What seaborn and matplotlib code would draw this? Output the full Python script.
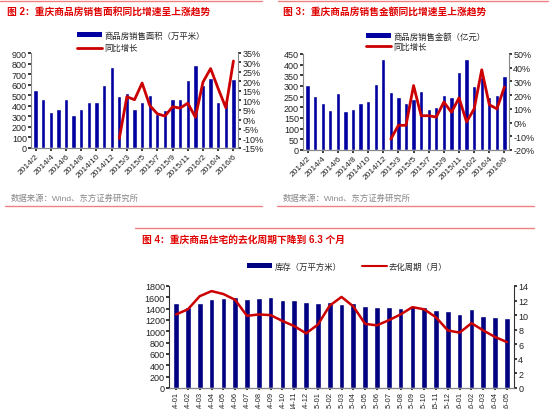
import numpy as np
import pandas as pd
import matplotlib
matplotlib.use("Agg")
import matplotlib.pyplot as plt
import seaborn as sns
from matplotlib.patches import Patch
from matplotlib.lines import Line2D
from matplotlib.ticker import FuncFormatter

sns.set_theme(style="white")
plt.rcParams['font.family'] = ['Liberation Sans', 'Noto Sans CJK SC', 'DejaVu Sans']
plt.rcParams['axes.unicode_minus'] = False

# ---------------- data ----------------
months_top = ["2014/2", "2014/3", "2014/4", "2014/5", "2014/6", "2014/7", "2014/8", "2014/9",
              "2014/10", "2014/11", "2014/12", "2015/2", "2015/3", "2015/4", "2015/5", "2015/6",
              "2015/7", "2015/8", "2015/9", "2015/10", "2015/11", "2015/12", "2016/2", "2016/3",
              "2016/4", "2016/5", "2016/6"]
sales_area = [547, 468, 340, 365, 468, 317, 365, 437, 437, 595, 772, 497, 522, 371, 432, 498,
              320, 364, 465, 465, 646, 782, 593, 662, 434, 450, 652]
area_yoy = [-10, 12, 10.4, 19.2, 7.4, 3, 1.8, 6.7, 6, 8.6, 1.2, 19.7, 26.8, 16.2, 6.2, 30.8]
sales_amount = [305, 255, 222, 188, 265, 182, 192, 222, 232, 310, 425, 270, 250, 218, 238, 278,
                190, 200, 257, 250, 367, 425, 298, 340, 247, 260, 349]
amount_yoy = [-12, -2, -2, 27, 5, 5, 4, 15, 7.5, 18, 0.5, 10, 38.5, 13, 10, 26]
yoy_start = 11  # series starts at 2015/2

months_bot = ["14-01", "14-02", "14-03", "14-04", "14-05", "14-06", "14-07", "14-08", "14-09",
              "14-10", "14-11", "14-12", "15-01", "15-02", "15-03", "15-04", "15-05", "15-06",
              "15-07", "15-08", "15-09", "15-10", "15-11", "15-12", "16-01", "16-02", "16-03",
              "16-04", "16-05"]
inventory = [1506, 1435, 1494, 1570, 1594, 1612, 1565, 1588, 1606, 1559, 1553, 1518, 1494, 1524,
             1476, 1503, 1453, 1429, 1429, 1409, 1441, 1438, 1376, 1353, 1312, 1388, 1265, 1253, 1229]
cycle = [10.1, 10.8, 12.6, 13.3, 12.9, 12.1, 9.9, 10.1, 10.0, 9.2, 8.5, 7.5, 8.7, 11.3, 12.5,
         11.2, 8.8, 8.6, 9.3, 10.1, 11.1, 10.8, 9.7, 7.9, 7.6, 8.9, 7.9, 7.0, 6.3]

BLUE = "#0000A0"
NAVY = "#000080"
RED = "#CC0000"
TITLE_RED = "#E00000"
GRAY = "#888888"
SEP = "#F08080"

W, H = 550, 410
fig = plt.figure(figsize=(W / 100, H / 100), dpi=100)


def fx(px):
    return px / W


def fy(py):
    return 1 - py / H


def box(l, t, r, b):
    return [fx(l), fy(b), fx(r) - fx(l), (b - t) / H]


def style_axes(ax, ax2):
    for a in (ax, ax2):
        a.spines['top'].set_visible(False)
        for s in ('left', 'right', 'bottom'):
            a.spines[s].set_color("#888888")
            a.spines[s].set_linewidth(0.8)
        a.grid(False)
        a.set_xlabel("")
        a.set_ylabel("")
    ax2.spines['left'].set_visible(False)
    ax.spines['right'].set_visible(False)
    ax.tick_params(axis='y', labelsize=6.5, length=2, pad=1, colors="#222222", left=True)
    ax2.tick_params(axis='y', labelsize=6.5, length=2, pad=1, colors="#222222", right=True)
    ax.tick_params(axis='x', length=2, pad=1, colors="#222222", bottom=True)


def top_panel(l, t, r, b, values, yoy, lmax, lstep, rmin, rmax, rstep):
    ax = fig.add_axes(box(l, t, r, b))
    df = pd.DataFrame({"m": months_top, "v": values})
    sns.barplot(data=df, x="m", y="v", order=months_top, color=BLUE, saturation=1,
                width=0.56, ax=ax)
    ax2 = ax.twinx()
    ydf = pd.DataFrame({"x": np.arange(yoy_start, yoy_start + len(yoy)), "y": yoy})
    sns.lineplot(data=ydf, x="x", y="y", color=RED, linewidth=2, ax=ax2)
    ax.set_xlim(-0.6, len(months_top) - 0.4)
    ax.set_ylim(0, lmax)
    ax.set_yticks(np.arange(0, lmax + 1, lstep))
    ax2.set_ylim(rmin, rmax)
    ax2.set_yticks(np.arange(rmin, rmax + 1, rstep))
    ax2.yaxis.set_major_formatter(FuncFormatter(lambda v, p: f"{int(round(v))}%"))
    ax.set_xticks(np.arange(0, len(months_top), 2))
    ax.set_xticklabels(months_top[::2], rotation=45, ha='right', rotation_mode='anchor',
                       fontsize=6)
    style_axes(ax, ax2)
    handles = [Patch(facecolor=BLUE, edgecolor='none'),
               Line2D([0], [0], color=RED, linewidth=2)]
    return ax, ax2, handles


# ---------- Figure 2 ----------
ax, ax2, hd = top_panel(31, 54, 238, 149, sales_area, area_yoy, 900, 100, -15, 35, 5)
fig.legend(hd, ["商品房销售面积（万平米）", "同比增长"], loc='upper left',
           bbox_to_anchor=(fx(77), fy(32)), frameon=False, fontsize=6,
           handlelength=3.0, handleheight=0.5, labelspacing=0.55, handletextpad=0.3,
           borderaxespad=0, borderpad=0)

# ---------- Figure 3 ----------
ax, ax2, hd = top_panel(303, 55, 509, 151, sales_amount, amount_yoy, 450, 50, -20, 50, 10)
fig.legend(hd, ["商品房销售金额（亿元）", "同比增长"], loc='upper left',
           bbox_to_anchor=(fx(366), fy(33)), frameon=False, fontsize=6,
           handlelength=3.0, handleheight=0.5, labelspacing=0.25, handletextpad=0.3,
           borderaxespad=0, borderpad=0)

# ---------- Figure 4 ----------
ax = fig.add_axes(box(169, 287, 514, 389))
bdf = pd.DataFrame({"m": months_bot, "v": inventory})
sns.barplot(data=bdf, x="m", y="v", order=months_bot, color=NAVY, saturation=1,
            width=0.48, ax=ax)
ax2 = ax.twinx()
cdf = pd.DataFrame({"x": np.arange(len(cycle)), "y": cycle})
sns.lineplot(data=cdf, x="x", y="y", color=RED, linewidth=1.8, ax=ax2)
ax.set_xlim(-0.6, len(months_bot) - 0.4)
ax.set_ylim(0, 1800)
ax.set_yticks(np.arange(0, 1801, 200))
ax2.set_ylim(0, 14)
ax2.set_yticks(np.arange(0, 15, 2))
ax.set_xticks(np.arange(len(months_bot)))
style_axes(ax, ax2)
ax.set_xticklabels(months_bot, rotation=90, fontsize=5.3, va='top')
ax.tick_params(axis='x', length=1.5, pad=0.5)
ax.spines['left'].set_color("#333333")
ax2.spines['right'].set_color("#333333")
ax.spines['bottom'].set_color("#333333")
hd = [Patch(facecolor=NAVY, edgecolor='none'), Line2D([0], [0], color=RED, linewidth=1.5)]
fig.legend(hd, ["库存（万平方米）", "去化周期（月）"], loc='upper left', ncol=2,
           bbox_to_anchor=(fx(247), fy(263)), frameon=False, fontsize=6,
           handlelength=3.0, handleheight=0.5, columnspacing=2.4, handletextpad=0.3,
           borderaxespad=0, borderpad=0)

# ---------- titles, sources, separators ----------
fig.text(fx(7), fy(12), "图 2：重庆商品房销售面积同比增速呈上涨趋势", color=TITLE_RED,
         fontsize=7, fontweight='bold', va='center', ha='left')
fig.text(fx(283), fy(12), "图 3：重庆商品房销售金额同比增速呈上涨趋势", color=TITLE_RED,
         fontsize=7, fontweight='bold', va='center', ha='left')
fig.text(fx(142), fy(240), "图 4：重庆商品住宅的去化周期下降到 6.3 个月", color=TITLE_RED,
         fontsize=7, fontweight='bold', va='center', ha='left')
fig.text(fx(11), fy(199), "数据来源：Wind、东方证券研究所", color=GRAY, fontsize=6,
         va='center', ha='left')
fig.text(fx(283), fy(199), "数据来源：Wind、东方证券研究所", color=GRAY, fontsize=6,
         va='center', ha='left')

for (x0, x1, yy) in [(0, 262, 1.5), (278, 548, 1.5), (5, 262, 207), (277, 534, 207),
                     (135, 534, 229)]:
    fig.add_artist(Line2D([fx(x0), fx(x1)], [fy(yy), fy(yy)], color=SEP, linewidth=1,
                          transform=fig.transFigure))

fig.savefig("out.png", dpi=100)
